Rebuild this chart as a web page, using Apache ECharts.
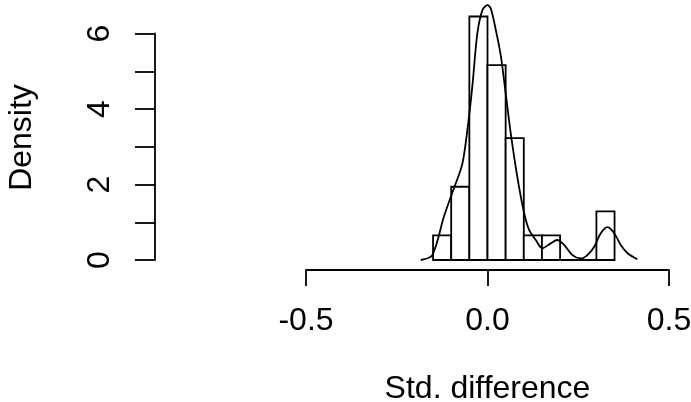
<!DOCTYPE html>
<html>
<head>
<meta charset="utf-8">
<script src="https://cdn.jsdelivr.net/npm/echarts@6/dist/echarts.min.js"></script>
<style>
  html, body { margin: 0; padding: 0; background: #fff; }
  #hist { width: 691px; height: 402px; }
</style>
</head>
<body>
<div id="hist"></div>
<script>
// histogram bins (width 0.05) and their density heights
var binStart = [-0.15, -0.10, -0.05, 0.00, 0.05, 0.10, 0.15, 0.20, 0.25, 0.30];
var binEnd = [-0.10, -0.05, 0.00, 0.05, 0.10, 0.15, 0.20, 0.25, 0.30, 0.35];
var binDensity = [0.65, 1.94, 6.45, 5.16, 3.23, 0.65, 0.65, 0, 0, 1.29];

// kernel density curve
var densX = [-0.184, -0.152, -0.12, -0.096, -0.069, -0.051, -0.041, -0.028, -0.014, 0, 0.009, 0.023, 0.037, 0.05, 0.064, 0.082, 0.101, 0.115, 0.133, 0.151, 0.174, 0.192, 0.211, 0.234, 0.257, 0.275, 0.294, 0.312, 0.331, 0.349, 0.367, 0.386, 0.413];
var densY = [0, 0.13, 1.15, 1.81, 2.56, 3.80, 4.68, 6.0, 6.62, 6.75, 6.66, 6.09, 5.39, 4.42, 3.36, 2.21, 1.24, 0.79, 0.53, 0.31, 0.44, 0.53, 0.40, 0.13, 0.04, 0.13, 0.35, 0.71, 0.87, 0.71, 0.40, 0.18, 0.02];

var xTicks = [-0.5, 0.0, 0.5];
var yTicks = [0, 2, 4, 6];

var font = 'Liberation Sans, Arial, sans-serif';
var fs = 32;
var lw = 1.8;

var chart = echarts.init(document.getElementById('hist'));

var bars = [];
for (var i = 0; i < binStart.length; i++) {
  bars.push([binStart[i], binEnd[i], binDensity[i]]);
}
var curve = [];
for (var j = 0; j < densX.length; j++) {
  curve.push([densX[j], densY[j]]);
}

var option = {
  animation: false,
  backgroundColor: '#fff',
  grid: [
    // main plot region (x axis runs -0.5..0.5)
    { left: 306, right: 22, top: 5, bottom: 132, outerBoundsMode: 'none' },
    // detached y axis, 0..6
    { left: 155, width: 10, top: 33.5, bottom: 142, outerBoundsMode: 'none' }
  ],
  xAxis: [
    {
      gridIndex: 0, type: 'value', min: -0.5, max: 0.5, interval: 0.5,
      name: 'Std. difference', nameLocation: 'middle', nameGap: 103,
      nameTextStyle: { fontFamily: font, fontSize: fs, color: '#000' },
      axisLine: { show: true, onZero: false, lineStyle: { color: '#000', width: lw } },
      axisTick: { show: true, length: 16, lineStyle: { color: '#000', width: lw } },
      axisLabel: {
        margin: 35, fontFamily: font, fontSize: fs, color: '#000',
        formatter: function (v) { return xTicks.indexOf(v) >= 0 ? v.toFixed(1) : ''; }
      },
      splitLine: { show: false }
    },
    { gridIndex: 1, type: 'value', min: 0, max: 1, show: false }
  ],
  yAxis: [
    {
      gridIndex: 0, type: 'value', min: -0.265, max: 6.755,
      position: 'left', offset: 151,
      name: 'Density', nameLocation: 'middle', nameGap: 117, nameRotate: 90,
      nameTextStyle: { fontFamily: font, fontSize: fs, color: '#000' },
      axisLine: { show: false }, axisTick: { show: false },
      axisLabel: { show: false }, splitLine: { show: false }
    },
    {
      gridIndex: 1, type: 'value', min: 0, max: 6, interval: 1,
      axisLine: { show: true, lineStyle: { color: '#000', width: lw } },
      axisTick: { show: true, length: 20, lineStyle: { color: '#000', width: lw } },
      axisLabel: {
        margin: 39, rotate: 90, fontFamily: font, fontSize: fs, color: '#000',
        formatter: function (v) { return yTicks.indexOf(v) >= 0 ? String(v) : ''; }
      },
      splitLine: { show: false }
    }
  ],
  series: [
    {
      type: 'custom',
      xAxisIndex: 0, yAxisIndex: 0,
      data: bars,
      renderItem: function (params, api) {
        var p0 = api.coord([api.value(0), 0]);
        var p1 = api.coord([api.value(1), api.value(2)]);
        return {
          type: 'rect',
          shape: { x: p0[0], y: p1[1], width: p1[0] - p0[0], height: p0[1] - p1[1] },
          style: { fill: '#fff', stroke: '#000', lineWidth: lw }
        };
      }
    },
    {
      type: 'line',
      xAxisIndex: 0, yAxisIndex: 0,
      data: curve,
      smooth: 0.3,
      clip: false,
      symbol: 'none',
      lineStyle: { color: '#000', width: lw }
    }
  ]
};
chart.setOption(option);
</script>
</body>
</html>
